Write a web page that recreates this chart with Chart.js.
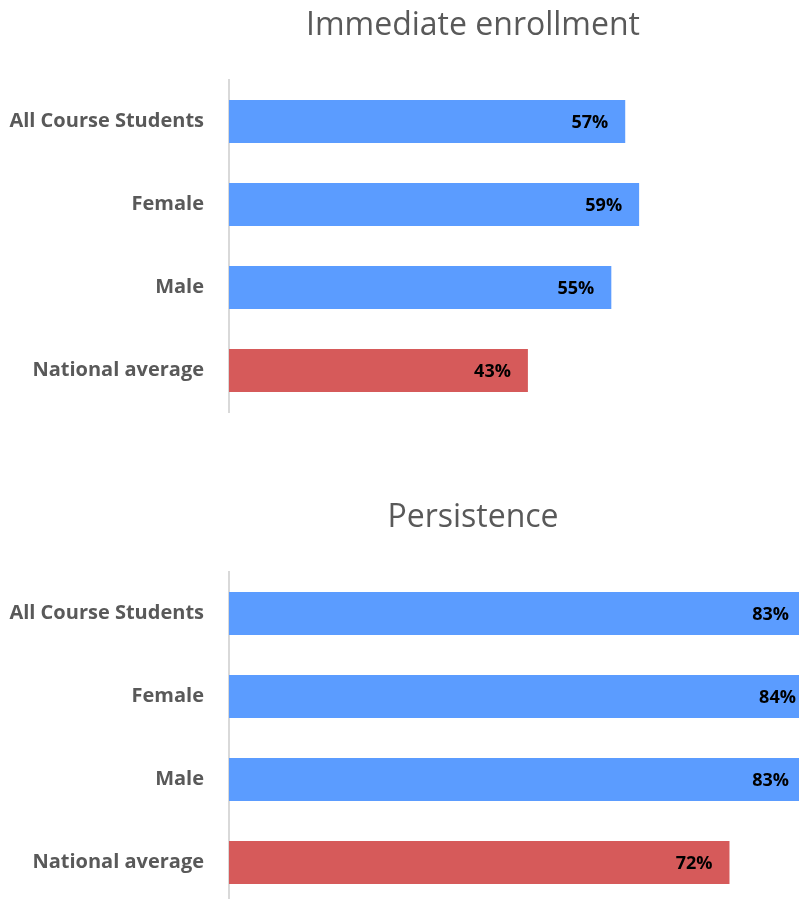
<!DOCTYPE html>
<html>
<head>
<meta charset="utf-8">
<script src="https://cdn.jsdelivr.net/npm/chart.js@4.4.1/dist/chart.umd.min.js"></script>
<style>
    html, body { margin: 0; padding: 0; background: #fff; overflow: hidden; }
    #wrap { position: relative; width: 799px; height: 899px; overflow: hidden; }
    canvas { position: absolute; left: 0; }
</style>
</head>
<body>
<div id="wrap">
    <canvas id="chartEnroll" width="799" height="449" style="top:0"></canvas>
    <canvas id="chartPersist" width="799" height="449" style="top:492px"></canvas>
</div>
<script>
const categories = ["All Course Students", "Female", "Male", "National average"];
const enrollValues = [57, 59, 55, 43];
const persistValues = [83, 84, 83, 72];
const enrollTitle = "Immediate enrollment";
const persistTitle = "Persistence";

const blue = "#5b9cff";
const red = "#d65a5a";
const barColors = [blue, blue, blue, red];

// title drawn centred over the plot side, like the original
const titlePlugin = {
    id: "sideTitle",
    afterDraw(chart, args, opts) {
        const ctx = chart.ctx;
        ctx.save();
        ctx.font = "32px 'Open Sans'";
        ctx.fillStyle = "#595959";
        ctx.textAlign = "center";
        ctx.textBaseline = "middle";
        ctx.fillText(opts.text, 473, 26);
        ctx.restore();
    }
};

// value labels inside the bar end
const valueLabels = {
    id: "valueLabels",
    afterDatasetsDraw(chart) {
        const ctx = chart.ctx;
        const xScale = chart.scales.x;
        const meta = chart.getDatasetMeta(0);
        ctx.save();
        ctx.font = "bold 18px 'Open Sans'";
        ctx.fillStyle = "#000";
        ctx.textAlign = "right";
        ctx.textBaseline = "middle";
        meta.data.forEach((bar, i) => {
            const v = chart.data.datasets[0].data[i];
            ctx.fillText(v + "%", xScale.getPixelForValue(v) - 17, bar.y + 1);
        });
        ctx.restore();
    }
};

function makeChart(id, title, values) {
    const ctx = document.getElementById(id).getContext("2d");
    return new Chart(ctx, {
        type: "bar",
        data: {
            labels: categories,
            datasets: [
                {
                    data: values,
                    backgroundColor: barColors,
                    borderWidth: 0,
                    barPercentage: 0.52,
                    categoryPercentage: 1,
                    clip: false,
                },
            ],
        },
        options: {
            indexAxis: "y",
            responsive: false,
            animation: false,
            plugins: {
                legend: { display: false },
                tooltip: { enabled: false },
                title: { display: false },
                sideTitle: { text: title },
            },
            scales: {
                x: {
                    display: false,
                    min: 0,
                    max: 82,
                },
                y: {
                    afterFit(scale) {
                        scale.width = 229;
                    },
                    grid: { display: false, drawTicks: false },
                    border: { display: true, color: "#d9d9d9", width: 2 },
                    ticks: {
                        padding: 25,
                        color: "#595959",
                        font: { family: "'Open Sans'", size: 20, weight: "bold" },
                    },
                },
            },
            layout: {
                padding: {
                    top: 80,
                    right: 0,
                    bottom: 8,
                    left: 0
                }
            },
        },
        plugins: [titlePlugin, valueLabels],
    });
}

makeChart("chartEnroll", enrollTitle, enrollValues);
makeChart("chartPersist", persistTitle, persistValues);
</script>
</body>
</html>
